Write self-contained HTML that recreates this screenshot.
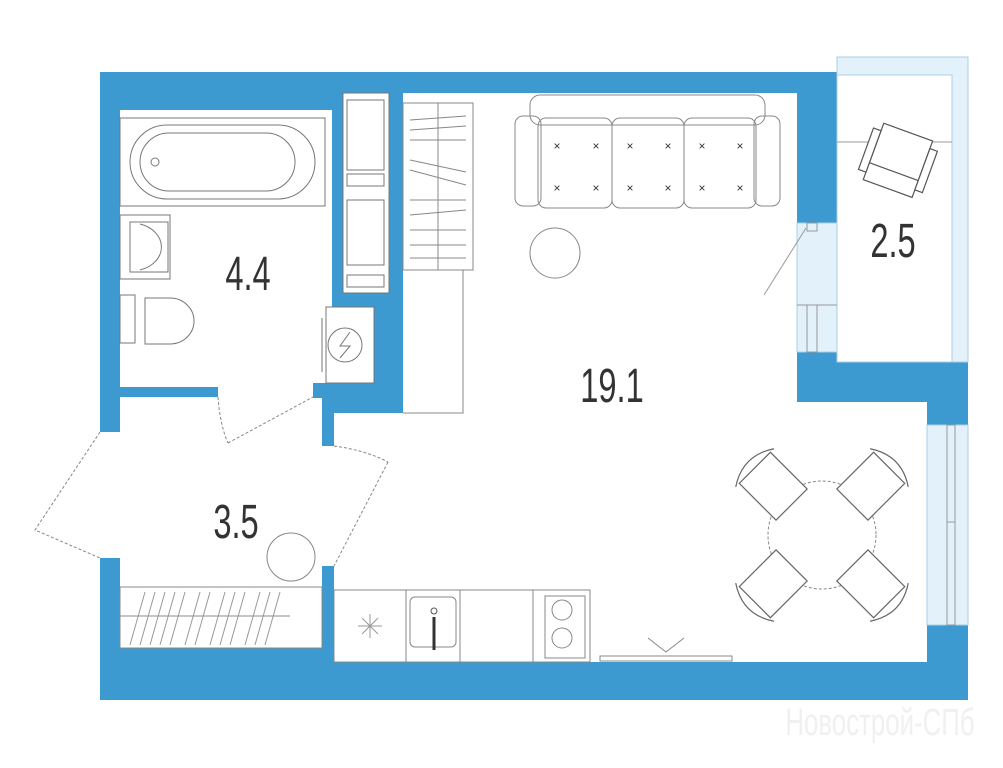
<!DOCTYPE html>
<html><head><meta charset="utf-8"><style>
html,body{margin:0;padding:0;background:#fff;}
svg{display:block;}
text{font-family:"Liberation Sans",sans-serif;fill:#333;}
</style></head><body>
<svg width="1003" height="768" viewBox="0 0 1003 768" xmlns="http://www.w3.org/2000/svg">
<g fill="#3d9ad1">
<rect x="100" y="72" width="737" height="21"/>
<rect x="100" y="72" width="232" height="38"/>
<rect x="797" y="72" width="40" height="151"/>
<rect x="100" y="72" width="20" height="360"/>
<rect x="100" y="558" width="20" height="142"/>
<rect x="120" y="387" width="98" height="10"/>
<rect x="332" y="93" width="11" height="214"/>
<rect x="374" y="293" width="29" height="120"/>
<rect x="389" y="72" width="14" height="341"/>
<rect x="343" y="293" width="46" height="14"/>
<rect x="313" y="383" width="90" height="15"/>
<rect x="322" y="383" width="81" height="30"/>
<rect x="322" y="383" width="12" height="63"/>
<rect x="322" y="566" width="12" height="134"/>
<rect x="100" y="648" width="234" height="52"/>
<rect x="100" y="662" width="868" height="38"/>
<rect x="927" y="625" width="41" height="75"/>
<rect x="797" y="352" width="40" height="50"/>
<rect x="797" y="362" width="171" height="40"/>
<rect x="927" y="362" width="41" height="63"/>
</g>
<g fill="#e3f1fa" stroke="#a9cfe6" stroke-width="1">
<rect x="837" y="57" width="131" height="305"/>
<rect x="797" y="223" width="40" height="129"/>
<rect x="927" y="425" width="41" height="200"/>
</g>
<rect x="837" y="75" width="115" height="287" fill="#fff" stroke="#a9cfe6"/>
<g stroke="#999" stroke-width="1" fill="none">
<line x1="837" y1="142" x2="952" y2="142"/>
<line x1="797" y1="305" x2="837" y2="305"/>
<rect x="807" y="305" width="10" height="47"/>
<rect x="807" y="223" width="10" height="8"/>
<line x1="806" y1="228" x2="764" y2="295"/>
<rect x="947" y="425" width="8" height="200"/>
<line x1="947" y1="522" x2="955" y2="522"/>
</g>
<g stroke="#555" stroke-width="1.2" fill="#fff" transform="rotate(20 897 160)">
<rect x="872" y="130" width="52" height="60"/>
<line x1="872" y1="172" x2="924" y2="172"/>
<rect x="864" y="138" width="8" height="44"/>
<rect x="924" y="138" width="8" height="44"/>
</g>
<g stroke="#777" stroke-width="1" fill="none">
<rect x="120" y="118" width="205" height="88"/>
<rect x="130" y="125" width="185" height="74" rx="37"/>
<rect x="140" y="133" width="155" height="58" rx="29"/>
<circle cx="155" cy="162" r="4"/>
<rect x="120" y="215" width="50" height="64"/>
<rect x="130" y="222" width="38" height="50"/>
<path d="M140 224 A30 24 0 0 1 140 270"/>
<rect x="120" y="295" width="15" height="48"/>
<path d="M145 298 H170 A24 23 0 0 1 170 344 H145 Z"/>
<rect x="343" y="93" width="46" height="200"/>
<rect x="347" y="100" width="37" height="70"/>
<rect x="347" y="174" width="37" height="12"/>
<rect x="347" y="200" width="37" height="65"/>
<rect x="347" y="275" width="37" height="12"/>
<rect x="326" y="307" width="48" height="76"/>
<circle cx="345" cy="345" r="17"/>
<path d="M350 332 L340 346 L350 346 L340 358"/>
<line x1="322" y1="318" x2="322" y2="372"/>
</g>
<g stroke="#888" stroke-width="1" fill="none" stroke-dasharray="3 2">
<path d="M218 397 Q220 425 228 443"/>
<line x1="228" y1="443" x2="313" y2="397"/>
<path d="M100 432 L35 530 L100 558"/>
<path d="M334 446 Q365 450 388 462"/>
<line x1="388" y1="462" x2="334" y2="566"/>
</g>
<g stroke="#888" stroke-width="1" fill="none">
<rect x="403" y="103" width="70" height="167"/>
<line x1="438" y1="103" x2="438" y2="270"/>
<polyline points="463,270 463,413 403,413"/>
<line x1="410" y1="120" x2="466" y2="116"/><line x1="410" y1="130" x2="466" y2="126"/>
<line x1="410" y1="140" x2="466" y2="140"/><line x1="410" y1="160" x2="466" y2="172"/>
<line x1="410" y1="170" x2="466" y2="185"/><line x1="410" y1="200" x2="466" y2="200"/>
<line x1="410" y1="215" x2="466" y2="210"/><line x1="410" y1="230" x2="466" y2="230"/>
<line x1="410" y1="245" x2="466" y2="245"/><line x1="410" y1="258" x2="466" y2="258"/>
<rect x="530" y="95" width="235" height="30" rx="10"/>
<rect x="515" y="116" width="26" height="90" rx="8"/>
<rect x="754" y="116" width="26" height="90" rx="8"/>
<rect x="538" y="118" width="74" height="90" rx="8"/>
<rect x="612" y="118" width="72" height="90" rx="8"/>
<rect x="684" y="118" width="72" height="90" rx="8"/>
<circle cx="555" cy="253" r="25"/>
<circle cx="822" cy="535" r="54" stroke-dasharray="3 2"/>
<rect x="120" y="587" width="202" height="61"/>
<line x1="120" y1="616" x2="290" y2="616"/>
<circle cx="291" cy="557" r="24"/>
<rect x="334" y="590" width="256" height="72"/>
<line x1="406" y1="590" x2="406" y2="662"/><line x1="460" y1="590" x2="460" y2="662"/><line x1="533" y1="590" x2="533" y2="662"/>
<rect x="410" y="597" width="46" height="50" rx="5"/>
<rect x="545" y="596" width="40" height="62"/>
<circle cx="562" cy="610" r="10"/><circle cx="562" cy="638" r="10"/>
<rect x="600" y="656" width="132" height="5"/>
<polyline points="648,638 666,652 684,638"/>
</g>
<g stroke="#999" stroke-width="1">
<line x1="130" y1="645" x2="145" y2="592"/><line x1="140" y1="645" x2="155" y2="592"/><line x1="150" y1="645" x2="165" y2="592"/><line x1="160" y1="645" x2="175" y2="592"/><line x1="170" y1="645" x2="185" y2="592"/><line x1="185" y1="645" x2="200" y2="592"/><line x1="195" y1="645" x2="210" y2="592"/><line x1="210" y1="645" x2="225" y2="592"/><line x1="220" y1="645" x2="235" y2="592"/><line x1="230" y1="645" x2="245" y2="592"/><line x1="245" y1="645" x2="260" y2="592"/><line x1="255" y1="645" x2="270" y2="592"/><line x1="265" y1="645" x2="280" y2="592"/>
<line x1="358" y1="626" x2="382" y2="626"/><line x1="370" y1="614" x2="370" y2="638"/><line x1="362" y1="618" x2="378" y2="634"/><line x1="378" y1="618" x2="362" y2="634"/>
</g>
<line x1="434" y1="617" x2="434" y2="650" stroke="#333" stroke-width="3"/>
<circle cx="434" cy="611" r="3" fill="none" stroke="#555"/>
<g stroke="#666" stroke-width="1.2" fill="#fff">
<g transform="rotate(-45 822 535)"><rect x="800" y="440" width="44" height="52"/><path d="M795 440 Q822 422 849 440" fill="none"/></g>
<g transform="rotate(45 822 535)"><rect x="800" y="440" width="44" height="52"/><path d="M795 440 Q822 422 849 440" fill="none"/></g>
<g transform="rotate(135 822 535)"><rect x="800" y="440" width="44" height="52"/><path d="M795 440 Q822 422 849 440" fill="none"/></g>
<g transform="rotate(-135 822 535)"><rect x="800" y="440" width="44" height="52"/><path d="M795 440 Q822 422 849 440" fill="none"/></g>
</g>
<g text-anchor="middle" style="font-family:'DejaVu Sans',sans-serif">
<text x="557" y="150" font-size="12" fill="#666">×</text><text x="596" y="150" font-size="12" fill="#666">×</text><text x="630" y="150" font-size="12" fill="#666">×</text><text x="668" y="150" font-size="12" fill="#666">×</text><text x="702" y="150" font-size="12" fill="#666">×</text><text x="740" y="150" font-size="12" fill="#666">×</text>
<text x="557" y="192" font-size="12" fill="#666">×</text><text x="596" y="192" font-size="12" fill="#666">×</text><text x="630" y="192" font-size="12" fill="#666">×</text><text x="668" y="192" font-size="12" fill="#666">×</text><text x="702" y="192" font-size="12" fill="#666">×</text><text x="740" y="192" font-size="12" fill="#666">×</text>
</g>
<g font-size="48" text-anchor="middle">
<text transform="translate(248 290) scale(0.68 1)">4.4</text>
<text transform="translate(612 402) scale(0.68 1)">19.1</text>
<text transform="translate(236 538) scale(0.68 1)">3.5</text>
<text transform="translate(893 257) scale(0.68 1)">2.5</text>
</g>
<text transform="translate(880 735) scale(0.68 1)" font-size="38" text-anchor="middle" style="fill:#f0f0f0">Новострой-СПб</text>
</svg>
</body></html>
